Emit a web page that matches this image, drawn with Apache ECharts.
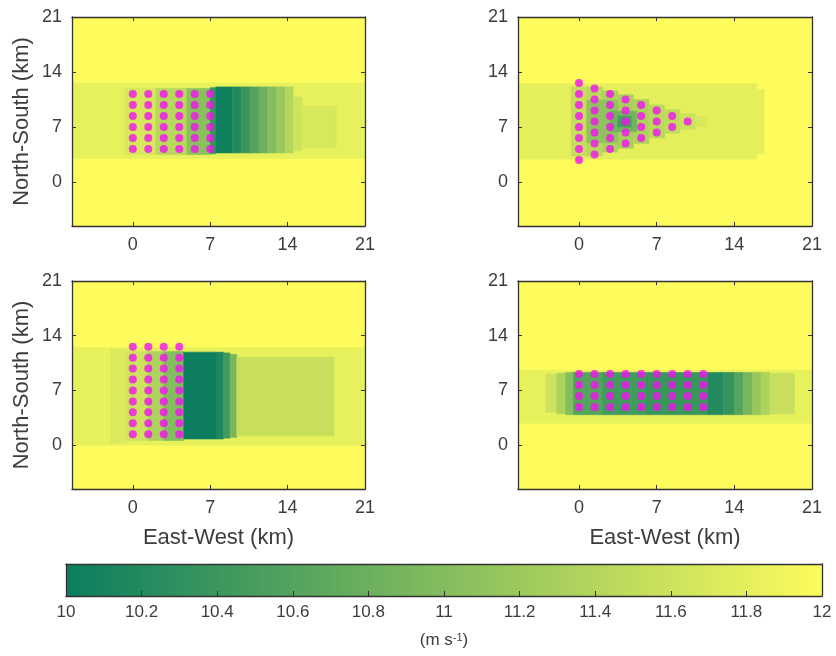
<!DOCTYPE html>
<html>
<head>
<meta charset="utf-8">
<script src="https://cdn.jsdelivr.net/npm/echarts@6/dist/echarts.min.js"></script>
<style>
html,body{margin:0;padding:0;background:#fff;}
#main{width:836px;height:656px;}
</style>
</head>
<body>
<div id="main"></div>
<script>
//坐标轴刻度
var axisTicks = [0, 7, 14, 21];
var xRange = [-5.5, 21];
var yRange = [-5.6, 21];
var colorTicks = [10, 12];
var cmap = ['#0b7d5f', '#fdfc5c'];//summer色带两端

//风速场: [x0, x1, y0, y1, 风速]
var fieldA = [
	[-5.5, 21, -5.6, 21, 12],
	[-5.5, 21, 3.0, 12.6, 11.82],
	[-0.7, 2.1, 3.5, 11.9, 11.68],
	[2.1, 4.9, 3.5, 11.9, 11.42],
	[4.9, 7.0, 3.5, 11.9, 11.05],
	[7.0, 7.5, 3.6, 12.0, 10.35],
	[7.5, 9.0, 3.7, 12.1, 10.05],
	[9.0, 9.8, 3.7, 12.1, 10.2],
	[9.8, 10.6, 3.7, 12.1, 10.4],
	[10.6, 11.4, 3.7, 12.1, 10.6],
	[11.4, 12.2, 3.7, 12.1, 10.8],
	[12.2, 13.0, 3.7, 12.1, 11.0],
	[13.0, 13.8, 3.7, 12.1, 11.2],
	[13.8, 14.5, 3.7, 12.1, 11.4],
	[14.5, 15.3, 4.0, 10.8, 11.6],
	[15.3, 18.4, 4.4, 9.6, 11.68]
];
var fieldB = [
	[-5.5, 21, -5.6, 21, 12],
	[-5.5, 16.0, 2.9, 12.5, 11.8],
	[16.0, 16.7, 3.6, 11.8, 11.8],
	[-0.7, 0.7, 3.3, 12.1, 11.55],
	[0.7, 2.1, 3.3, 12.1, 11.45],
	[2.1, 3.5, 3.8, 11.6, 11.35],
	[3.5, 4.9, 4.3, 11.1, 11.3],
	[4.9, 6.3, 4.9, 10.5, 11.35],
	[6.3, 7.7, 5.6, 9.8, 11.45],
	[7.7, 9.1, 6.2, 9.2, 11.5],
	[9.1, 10.5, 6.7, 8.7, 11.6],
	[10.5, 11.5, 7.0, 8.4, 11.7],
	[0.7, 3.5, 5.0, 10.4, 11.1],
	[2.8, 5.2, 6.4, 9.0, 10.85],
	[3.5, 4.7, 7.0, 8.4, 10.5]
];
var fieldC = [
	[-5.5, 21, -5.6, 21, 12],
	[-5.5, 21, 0.0, 12.5, 11.82],
	[-2.0, -0.6, 0.2, 12.3, 11.72],
	[-0.6, 1.4, 0.6, 12.0, 11.6],
	[1.4, 2.8, 0.6, 12.0, 11.35],
	[2.8, 4.6, 0.6, 12.0, 11.0],
	[4.6, 7.6, 0.8, 11.9, 10.02],
	[7.6, 8.2, 0.8, 11.9, 10.15],
	[8.2, 8.8, 0.9, 11.8, 10.45],
	[8.8, 9.4, 1.0, 11.6, 10.9],
	[9.4, 18.2, 1.2, 11.25, 11.55]
];
var fieldD = [
	[-5.5, 21, -5.6, 21, 12],
	[-5.5, 21, 2.8, 9.6, 11.82],
	[-3.0, -2.0, 4.2, 9.1, 11.6],
	[-2.0, -1.2, 4.0, 9.2, 11.35],
	[-1.2, -0.5, 3.9, 9.3, 11.0],
	[-0.5, 2.1, 3.9, 9.3, 10.6],
	[2.1, 6.0, 3.9, 9.3, 10.45],
	[6.0, 11.6, 3.9, 9.3, 10.4],
	[11.6, 13.0, 3.9, 9.3, 10.2],
	[13.0, 14.0, 3.9, 9.3, 10.35],
	[14.0, 14.8, 3.9, 9.3, 10.6],
	[14.8, 15.6, 3.9, 9.3, 10.9],
	[15.6, 16.4, 3.9, 9.3, 11.15],
	[16.4, 17.2, 3.9, 9.3, 11.35],
	[17.2, 19.4, 4.0, 9.2, 11.55]
];

//风机位置
var turbColsA = [0, 1.4, 2.8, 4.2, 5.6, 7.0];
var turbRowsA = [4.2, 5.6, 7.0, 8.4, 9.8, 11.2];
var turbColsB = [0, 1.4, 2.8, 4.2, 5.6, 7.0, 8.4, 9.8];
var turbRowsB = [
	[2.8, 4.2, 5.6, 7.0, 8.4, 9.8, 11.2, 12.6],
	[3.5, 4.9, 6.3, 7.7, 9.1, 10.5, 11.9],
	[4.2, 5.6, 7.0, 8.4, 9.8, 11.2],
	[4.9, 6.3, 7.7, 9.1, 10.5],
	[5.6, 7.0, 8.4, 9.8],
	[6.3, 7.7, 9.1],
	[7.0, 8.4],
	[7.7]
];
var turbColsC = [0, 1.4, 2.8, 4.2];
var turbRowsC = [1.4, 2.8, 4.2, 5.6, 7.0, 8.4, 9.8, 11.2, 12.6];
var turbColsD = [0, 1.4, 2.8, 4.2, 5.6, 7.0, 8.4, 9.8, 11.2];
var turbRowsD = [4.9, 6.3, 7.7, 9.1];

function gridPoints(cols, rows) {
	var out = [];
	for (var i = 0; i < cols.length; i++) {
		var r = Array.isArray(rows[0]) ? rows[i] : rows;
		for (var j = 0; j < r.length; j++) out.push([cols[i], r[j]]);
	}
	return out;
}

var panels = [
	{field: fieldA, turb: gridPoints(turbColsA, turbRowsA), grid: {left: 72, top: 17, width: 293, height: 209}, xName: '', yName: 'North-South (km)'},
	{field: fieldB, turb: gridPoints(turbColsB, turbRowsB), grid: {left: 518, top: 17, width: 294, height: 209}, xName: '', yName: ''},
	{field: fieldC, turb: gridPoints(turbColsC, turbRowsC), grid: {left: 72, top: 281, width: 293, height: 208}, xName: 'East-West (km)', yName: 'North-South (km)'},
	{field: fieldD, turb: gridPoints(turbColsD, turbRowsD), grid: {left: 518, top: 281, width: 294, height: 208}, xName: 'East-West (km)', yName: ''}
];

var font = 'Liberation Sans, Arial, sans-serif';
var txtColor = '#3d3d3d';
var lineColor = '#333';

var grids = [], xAxes = [], yAxes = [], series = [];

function renderCell(params, api) {
	var p0 = api.coord([api.value(0), api.value(3)]);
	var p1 = api.coord([api.value(1), api.value(2)]);
	var c = api.visual('color');
	return {
		type: 'rect',
		shape: {x: p0[0], y: p0[1], width: p1[0] - p0[0], height: p1[1] - p0[1]},
		style: {fill: c, stroke: c, lineWidth: 0.6}
	};
}

function boxLine() {
	return {onZero: false, lineStyle: {color: lineColor, width: 1.3}};
}

panels.forEach(function (p, i) {
	grids.push(p.grid);
	//下/上 x轴
	xAxes.push({
		gridIndex: i, type: 'value', min: xRange[0], max: xRange[1], z: 5,
		name: p.xName, nameLocation: 'middle', nameGap: 38,
		nameTextStyle: {fontFamily: font, fontSize: 22, color: txtColor},
		axisLine: boxLine(),
		axisTick: {inside: true, length: 4, customValues: axisTicks, lineStyle: {color: lineColor}},
		axisLabel: {customValues: axisTicks, margin: 10, fontFamily: font, fontSize: 18, color: txtColor},
		splitLine: {show: false}
	});
	xAxes.push({
		gridIndex: i, type: 'value', position: 'top', min: xRange[0], max: xRange[1], z: 5,
		axisLine: boxLine(),
		axisTick: {inside: true, length: 4, customValues: axisTicks, lineStyle: {color: lineColor}},
		axisLabel: {show: false},
		splitLine: {show: false}
	});
	//左/右 y轴
	yAxes.push({
		gridIndex: i, type: 'value', min: yRange[0], max: yRange[1], z: 5,
		name: p.yName, nameLocation: 'middle', nameGap: 39,
		nameTextStyle: {fontFamily: font, fontSize: 22, color: txtColor},
		axisLine: boxLine(),
		axisTick: {inside: true, length: 4, customValues: axisTicks, lineStyle: {color: lineColor}},
		axisLabel: {customValues: axisTicks, margin: 10, fontFamily: font, fontSize: 18, color: txtColor},
		splitLine: {show: false}
	});
	yAxes.push({
		gridIndex: i, type: 'value', position: 'right', min: yRange[0], max: yRange[1], z: 5,
		axisLine: boxLine(),
		axisTick: {inside: true, length: 4, customValues: axisTicks, lineStyle: {color: lineColor}},
		axisLabel: {show: false},
		splitLine: {show: false}
	});
	series.push({
		type: 'custom', xAxisIndex: 2 * i, yAxisIndex: 2 * i, clip: true,
		renderItem: renderCell, encode: {x: [0, 1], y: [2, 3]},
		data: p.field, silent: true, z: 1
	});
});

panels.forEach(function (p, i) {
	series.push({
		type: 'scatter', xAxisIndex: 2 * i, yAxisIndex: 2 * i,
		symbol: 'circle', symbolSize: 8, silent: true, z: 3,
		itemStyle: {color: '#f312f0'},
		data: p.turb
	});
});

//色标
grids.push({left: 66, top: 564, width: 756, height: 32});
xAxes.push({
	gridIndex: 4, type: 'value', min: colorTicks[0], max: colorTicks[1], interval: 0.2, z: 5,
	name: '(m s{sup|-1})', nameLocation: 'middle', nameGap: 36,
	nameTextStyle: {fontFamily: font, fontSize: 17, color: txtColor,
		rich: {sup: {fontFamily: font, fontSize: 11, color: txtColor, verticalAlign: 'top', padding: [0, 0, 6, 0]}}},
	axisLine: boxLine(),
	axisTick: {inside: true, length: 5, lineStyle: {color: lineColor}},
	axisLabel: {margin: 8, fontFamily: font, fontSize: 17, color: txtColor,
		formatter: function (v) { return String(+v.toFixed(1)); }},
	splitLine: {show: false}
});
xAxes.push({
	gridIndex: 4, type: 'value', position: 'top', min: colorTicks[0], max: colorTicks[1], z: 5,
	axisLine: boxLine(),
	axisTick: {show: false}, axisLabel: {show: false}, splitLine: {show: false}
});
yAxes.push({
	gridIndex: 4, type: 'value', min: 0, max: 1, z: 5,
	axisLine: boxLine(),
	axisTick: {show: false}, axisLabel: {show: false}, splitLine: {show: false}
});
yAxes.push({
	gridIndex: 4, type: 'value', position: 'right', min: 0, max: 1, z: 5,
	axisLine: boxLine(),
	axisTick: {show: false}, axisLabel: {show: false}, splitLine: {show: false}
});
series.push({
	type: 'custom', xAxisIndex: 8, yAxisIndex: 8, silent: true,
	data: [colorTicks],
	renderItem: function (params, api) {
		var p0 = api.coord([api.value(0), 1]);
		var p1 = api.coord([api.value(1), 0]);
		return {
			type: 'rect',
			shape: {x: p0[0], y: p0[1], width: p1[0] - p0[0], height: p1[1] - p0[1]},
			style: {fill: new echarts.graphic.LinearGradient(0, 0, 1, 0, [
				{offset: 0, color: cmap[0]}, {offset: 1, color: cmap[1]}
			])}
		};
	}
});

var myChart = echarts.init(document.getElementById('main'));
var option = {
	backgroundColor: '#fff',
	animation: false,
	grid: grids,
	xAxis: xAxes,
	yAxis: yAxes,
	visualMap: {
		type: 'continuous', show: false, min: colorTicks[0], max: colorTicks[1],
		dimension: 4, seriesIndex: [0, 1, 2, 3],
		inRange: {color: cmap}
	},
	series: series
};
myChart.setOption(option);
</script>
</body>
</html>
